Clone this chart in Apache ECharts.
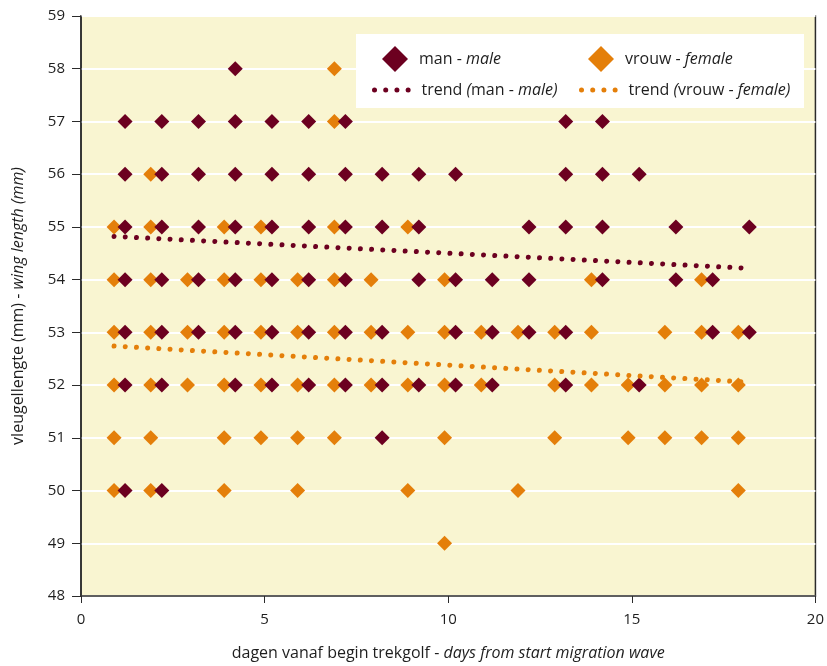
<!DOCTYPE html>
<html>
<head>
<meta charset="utf-8">
<script src="https://cdn.jsdelivr.net/npm/echarts@6/dist/echarts.min.js"></script>
<style>html,body{margin:0;padding:0;background:#fff;overflow:hidden}#c{width:827px;height:666px}</style>
</head>
<body>
<div id="c"></div>
<script>
// ---- data (days from start of migration wave, wing length in mm) ----
const wingLengths = [58, 57, 56, 55, 54, 53, 52, 51, 50, 49];
const maleDays = [
  [4],
  [1,2,3,4,5,6,7,13,14],
  [1,2,3,4,5,6,7,8,9,10,13,14,15],
  [1,2,3,4,5,6,7,8,9,12,13,14,16,18],
  [1,2,3,4,5,6,7,9,10,11,12,14,16,17],
  [1,2,3,4,5,6,7,8,10,11,12,13,17,18],
  [1,2,4,5,6,7,8,9,10,11,13,15],
  [8],
  [1,2],
  []
];
const femaleDays = [
  [7],
  [7],
  [2],
  [1,2,4,5,7,9],
  [1,2,3,4,5,6,7,8,10,14,17],
  [1,2,3,4,5,6,7,8,9,10,11,12,13,14,16,17,18],
  [1,2,3,4,5,6,7,8,9,10,11,13,14,15,16,17,18],
  [1,2,4,5,6,7,10,13,15,16,17,18],
  [1,2,4,6,9,12,18],
  [10]
];
const maleTrend = [[0.9, 54.82], [18.05, 54.22]];
const femaleTrend = [[0.9, 52.74], [18.05, 52.06]];
const xTicks = [0, 5, 10, 15, 20];
const yTicks = [48,49,50,51,52,53,54,55,56,57,58,59];

// display offsets so the two sexes sit side by side
const MALE_SHIFT = 0.2, FEMALE_SHIFT = -0.1;

function build(daysRows, shift) {
  const out = [];
  daysRows.forEach((row, i) => row.forEach(d => out.push([d + shift, wingLengths[i]])));
  return out;
}

const MALE = '#6c0020', FEMALE = '#e47f0a';
const FONT = '"Open Sans", "Noto Sans", sans-serif';
const TXT = '#1e1e1e';
const DOTS = [0.01, 11.2];

const chart = echarts.init(document.getElementById('c'), null, {renderer: 'canvas'});
const legendRich = {
  i: {fontStyle: 'italic', fontSize: 16, color: TXT, fontFamily: FONT},
  n: {fontSize: 16, color: TXT, fontFamily: FONT}
};
const legendLabels = {
  'man - male': '{n|man - }{i|male}',
  'vrouw - female': '{n|vrouw - }{i|female}',
  'trend (man - male)': '{n|trend }{i|(}{n|man - }{i|male)}',
  'trend (vrouw - female)': '{n|trend }{i|(}{n|vrouw - }{i|female)}'
};
function legend(name, left, top, isLine) {
  const l = {
    left: left, top: top,
    itemWidth: isLine ? 40 : 26,
    itemHeight: isLine ? 14 : 26,
    selectedMode: false,
    data: [name],
    formatter: n => legendLabels[n],
    textStyle: {fontSize: 16, color: TXT, fontFamily: FONT, rich: legendRich, padding: [0, 0, 0, 6]}
  };
  if (isLine) {
    l.itemStyle = {opacity: 0};
    l.lineStyle = {width: 5, type: DOTS, cap: 'round', dashOffset: -4};
  }
  return l;
}

chart.setOption({
  animation: false,
  textStyle: {fontFamily: FONT},
  grid: {
    left: 81, right: 7, top: 16, bottom: 65,
    show: true, backgroundColor: '#f9f5d1', borderColor: '#2b2b2b', borderWidth: 1.5
  },
  graphic: [{
    type: 'rect', silent: true, z: 1,
    shape: {x: 356, y: 34, width: 448, height: 74},
    style: {fill: '#ffffff'}
  }],
  legend: [
    legend('man - male', 377, 41, false),
    legend('vrouw - female', 583, 41, false),
    legend('trend (man - male)', 363, 77, true),
    legend('trend (vrouw - female)', 570, 77, true)
  ],
  xAxis: {
    type: 'value', min: 0, max: 20, interval: 5,
    name: 'dagen vanaf begin trekgolf - {i|days from start migration wave}',
    nameLocation: 'middle', nameGap: 49,
    nameTextStyle: {fontSize: 16, color: TXT, fontFamily: FONT,
      rich: {i: {fontStyle: 'italic', fontSize: 16, color: TXT, fontFamily: FONT}}},
    axisLine: {show: true, onZero: false, lineStyle: {color: '#2b2b2b', width: 1.5}},
    axisTick: {show: true, inside: false, length: 7, lineStyle: {color: '#2b2b2b'}},
    axisLabel: {fontSize: 15, color: TXT, margin: 16,
      formatter: v => xTicks.includes(v) ? String(v) : ''},
    splitLine: {show: false}
  },
  yAxis: {
    type: 'value', min: 48, max: 59, interval: 1,
    name: 'vleugellengte (mm) - {i|wing length (mm)}',
    nameLocation: 'middle', nameGap: 55, nameRotate: 90,
    nameTextStyle: {fontSize: 16, color: TXT, fontFamily: FONT,
      rich: {i: {fontStyle: 'italic', fontSize: 16, color: TXT, fontFamily: FONT}}},
    axisLine: {show: true, onZero: false, lineStyle: {color: '#2b2b2b', width: 1.5}},
    axisTick: {show: true, inside: false, length: 9, lineStyle: {color: '#2b2b2b'}},
    axisLabel: {fontSize: 15, color: TXT, margin: 16,
      formatter: v => yTicks.includes(v) ? String(v) : ''},
    splitLine: {show: true, lineStyle: {color: '#ffffff', width: 2}}
  },
  series: [
    {
      name: 'man - male', type: 'scatter', symbol: 'diamond', symbolSize: 15, z: 3,
      itemStyle: {color: MALE, opacity: 1},
      data: build(maleDays, MALE_SHIFT)
    },
    {
      name: 'vrouw - female', type: 'scatter', symbol: 'diamond', symbolSize: 15, z: 2,
      itemStyle: {color: FEMALE, opacity: 1},
      data: build(femaleDays, FEMALE_SHIFT)
    },
    {
      name: 'trend (man - male)', type: 'line', symbol: 'none', z: 4,
      itemStyle: {color: MALE},
      lineStyle: {color: MALE, width: 5, type: DOTS, cap: 'round'},
      data: maleTrend
    },
    {
      name: 'trend (vrouw - female)', type: 'line', symbol: 'none', z: 4,
      itemStyle: {color: FEMALE},
      lineStyle: {color: FEMALE, width: 5, type: DOTS, cap: 'round'},
      data: femaleTrend
    }
  ]
});
</script>
</body>
</html>
